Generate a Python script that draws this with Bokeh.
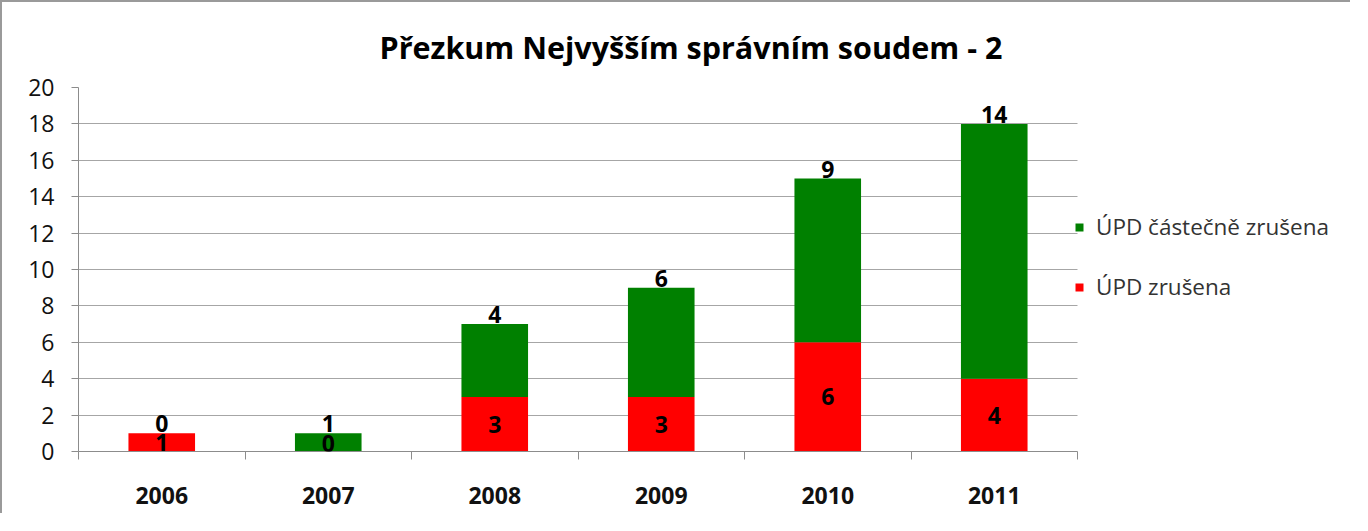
from bokeh.plotting import figure
from bokeh.models import ColumnDataSource, FixedTicker, Legend, LegendItem, Range1d, LabelSet
from bokeh.core.properties import value
from bokeh.embed import file_html
from bokeh.resources import INLINE

years = ["2006", "2007", "2008", "2009", "2010", "2011"]
zrusena = [1, 0, 3, 3, 6, 4]
castecne = [0, 1, 4, 6, 9, 14]
y_ticks = [0, 2, 4, 6, 8, 10, 12, 14, 16, 18, 20]

FONT = "Open Sans"
N = len(years)
xs = [i + 0.5 for i in range(N)]
tops = [a + b for a, b in zip(zrusena, castecne)]
src = ColumnDataSource(dict(
    x=xs, red=zrusena, green=castecne, top=tops,
    red_lbl=[str(v) for v in zrusena], green_lbl=[str(v) for v in castecne],
    red_y=[max(v / 2, 0.45) for v in zrusena],
))

W, H = 1350, 513
LEFT, TOP, BOTTOM, CAT_RIGHT = 76, 85, 64, 1075
cat_px = (CAT_RIGHT - LEFT) / N
x_end = (W - LEFT) / cat_px  # frame extends over legend area

p = figure(width=W, height=H, output_backend="svg", toolbar_location=None,
           x_range=Range1d(0, x_end), y_range=Range1d(0, 20),
           min_border_left=LEFT, min_border_top=TOP, min_border_bottom=BOTTOM, min_border_right=0)
p.styles = {"border-top": "2px solid #9a9a9a", "border-left": "2px solid #9a9a9a"}
p.outline_line_color = None
p.background_fill_color = "white"
p.border_fill_color = "white"

p.title.text = "Přezkum Nejvyšším správním soudem - 2"
p.title.align = "left"
p.title.offset = 301
p.title.text_font = FONT
p.title.text_font_size = "30.5px"
p.title.text_font_style = "bold"
p.title.text_color = "black"
p.title.standoff = 40

r_red = p.vbar(x="x", bottom=0, top="red", width=0.4, fill_color="#FF0000",
               line_color=None, source=src)
r_green = p.vbar(x="x", bottom="red", top="top", width=0.4, fill_color="#008000",
                 line_color=None, source=src)

p.add_layout(LabelSet(x="x", y="red_y", text="red_lbl", source=src, text_align="center",
                      text_baseline="middle", text_font=value(FONT), text_font_size="23px",
                      text_font_style="bold", text_color="black"))
p.add_layout(LabelSet(x="x", y="top", text="green_lbl", source=src, text_align="center",
                      text_baseline="alphabetic", y_offset=1, text_font=value(FONT),
                      text_font_size="23px", text_font_style="bold", text_color="black"))

# axes
p.xaxis.bounds = (0, N)
p.xaxis.ticker = FixedTicker(ticks=xs, minor_ticks=list(range(N + 1)))
p.xaxis.major_label_overrides = {x: y for x, y in zip(xs, years)}
p.xaxis.major_tick_line_color = None
p.xaxis.minor_tick_line_color = "#8c8c8c"
p.xaxis.minor_tick_out = 8
p.xaxis.minor_tick_in = 0
p.xaxis.axis_line_color = "#8c8c8c"
p.xaxis.major_label_text_font = FONT
p.xaxis.major_label_text_font_size = "23px"
p.xaxis.major_label_text_font_style = "bold"
p.xaxis.major_label_text_color = "#111111"
p.xaxis.major_label_standoff = 27

p.yaxis.ticker = FixedTicker(ticks=y_ticks)
p.yaxis.minor_tick_line_color = None
p.yaxis.major_tick_out = 7
p.yaxis.major_tick_in = 0
p.yaxis.major_tick_line_color = "#8c8c8c"
p.yaxis.axis_line_color = "#8c8c8c"
p.yaxis.major_label_text_font = FONT
p.yaxis.major_label_text_font_size = "23px"
p.yaxis.major_label_text_color = "#111111"
p.yaxis.major_label_standoff = 17

p.xgrid.grid_line_color = None
p.ygrid.grid_line_color = "#a6a6a6"
p.ygrid.ticker = FixedTicker(ticks=y_ticks)
p.ygrid.cross_bounds = (0, N)

legend = Legend(items=[LegendItem(label="ÚPD částečně zrušena", renderers=[r_green]),
                       LegendItem(label="ÚPD zrušena", renderers=[r_red])],
                location=(996, 149), orientation="vertical")
legend.border_line_color = None
legend.background_fill_alpha = 0
legend.label_text_font = FONT
legend.label_text_font_size = "22.5px"
legend.label_text_color = "#333333"
legend.glyph_width = 10
legend.glyph_height = 10
legend.label_height = 22
legend.spacing = 29
legend.padding = 0
legend.margin = 0
legend.label_standoff = 12
p.add_layout(legend, "center")

open("out.html", "w").write(file_html(p, INLINE))
